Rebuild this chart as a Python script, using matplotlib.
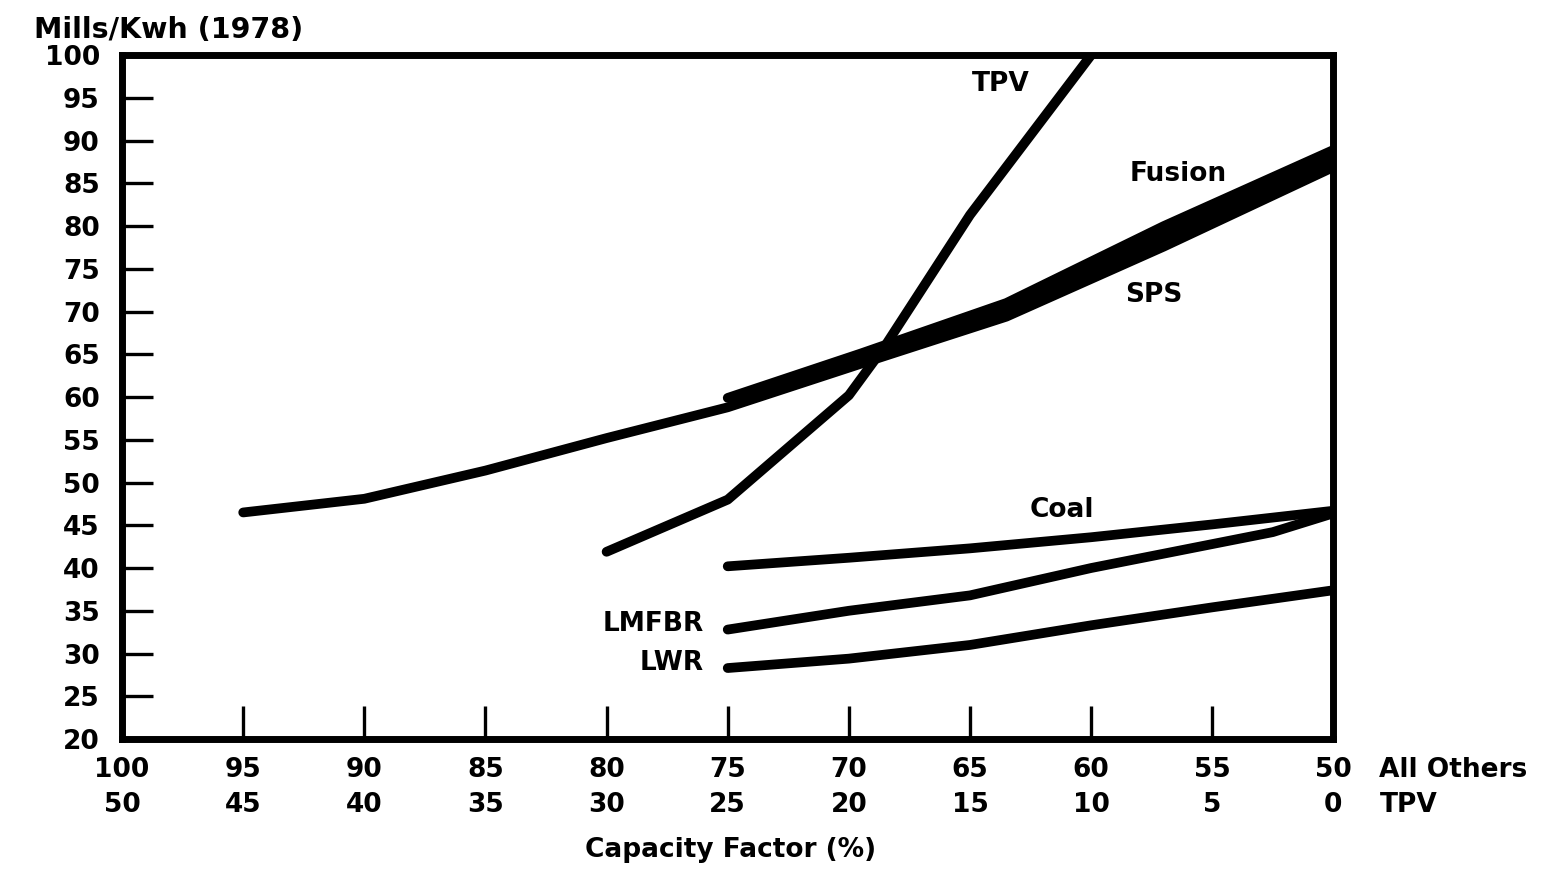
import numpy as np
import matplotlib.pyplot as plt
from matplotlib import transforms

## ========= data =====================================
# capacity factor (%) for "All Others"; TPV axis runs 50 below it
cap_ticks = [100, 95, 90, 85, 80, 75, 70, 65, 60, 55, 50]
tpv_ticks = [50, 45, 40, 35, 30, 25, 20, 15, 10, 5, 0]
y_ticks = list(range(20, 101, 5))

sps_x = [95, 90, 85, 80, 75, 69.5, 63.5, 57, 50]
sps = [46.5, 48.1, 51.4, 55.2, 58.8, 63.9, 69.4, 77.6, 86.9]
fusion_x = [75, 69.5, 63.5, 57, 50]
fusion = [59.9, 65.1, 71.0, 80.0, 88.9]

tpv_x = [30, 25, 20, 18.5, 15, 10]      # TPV capacity factor
tpv = [41.9, 48.0, 60.2, 66.0, 81.3, 100]

coal_x = [75, 70, 65, 60, 55, 50]
coal = [40.2, 41.2, 42.3, 43.6, 45.1, 46.7]
lmfbr_x = [75, 70, 65, 60, 55, 52.5, 50]
lmfbr = [32.8, 35.0, 36.8, 40.0, 42.8, 44.2, 46.4]
lwr_x = [75, 70, 65, 60, 55, 50]
lwr = [28.3, 29.4, 31.0, 33.3, 35.4, 37.4]

FS = 19
BOLD = dict(fontsize=FS, fontweight='bold', family='DejaVu Sans')

fig = plt.figure(figsize=(15.65, 8.69), dpi=100)
ax = fig.add_axes([0.078, 0.1496, 0.774, 0.787])

lw = 7
kw = dict(color='k', lw=lw, solid_capstyle='round', solid_joinstyle='round')
ax.plot(sps_x, sps, **kw)
ax.plot(fusion_x, fusion, **kw)
ax.fill_between(fusion_x, sps[4:], fusion, color='k', lw=0)
ax.plot([t + 50 for t in tpv_x], tpv, **kw)
ax.plot(coal_x, coal, **kw)
ax.plot(lmfbr_x, lmfbr, **kw)
ax.plot(lwr_x, lwr, **kw)

# curve labels
ax.text(63.75, 96.6, 'TPV', ha='center', va='center', **BOLD)
ax.text(56.4, 86.1, 'Fusion', ha='center', va='center', **BOLD)
ax.text(57.4, 71.9, 'SPS', ha='center', va='center', **BOLD)
ax.text(61.2, 46.8, 'Coal', ha='center', va='center', **BOLD)
ax.text(76.0, 33.4, 'LMFBR', ha='right', va='center', **BOLD)
ax.text(76.0, 28.9, 'LWR', ha='right', va='center', **BOLD)

ax.set_xlim(100, 50)
ax.set_ylim(20, 100)
for s in ax.spines.values():
    s.set_linewidth(5)

ax.set_yticks(y_ticks)
ax.set_yticklabels([str(v) for v in y_ticks], **BOLD)
ax.tick_params(axis='y', direction='in', length=22, width=2.4, pad=16)

ax.set_xticks(cap_ticks)
ax.set_xticklabels([])
ax.tick_params(axis='x', direction='in', length=24, width=2.4)

# two rows of x labels plus the row names
trans = transforms.blended_transform_factory(ax.transData, ax.transAxes)
for a, t in zip(cap_ticks, tpv_ticks):
    ax.text(a, -0.045, str(a), transform=trans, ha='center', va='center', **BOLD)
    ax.text(a, -0.0965, str(t), transform=trans, ha='center', va='center', **BOLD)
ax.text(48.1, -0.045, 'All Others', transform=trans, ha='left', va='center', **BOLD)
ax.text(48.1, -0.0965, 'TPV', transform=trans, ha='left', va='center', **BOLD)
ax.text(74.9, -0.162, 'Capacity Factor (%)', transform=trans, ha='center', va='center', **BOLD)

fig.text(0.022, 0.965, 'Mills/Kwh (1978)', ha='left', va='center',
         fontsize=20.5, fontweight='bold', family='DejaVu Sans')

fig.savefig('out.png', dpi=100, facecolor='white')
